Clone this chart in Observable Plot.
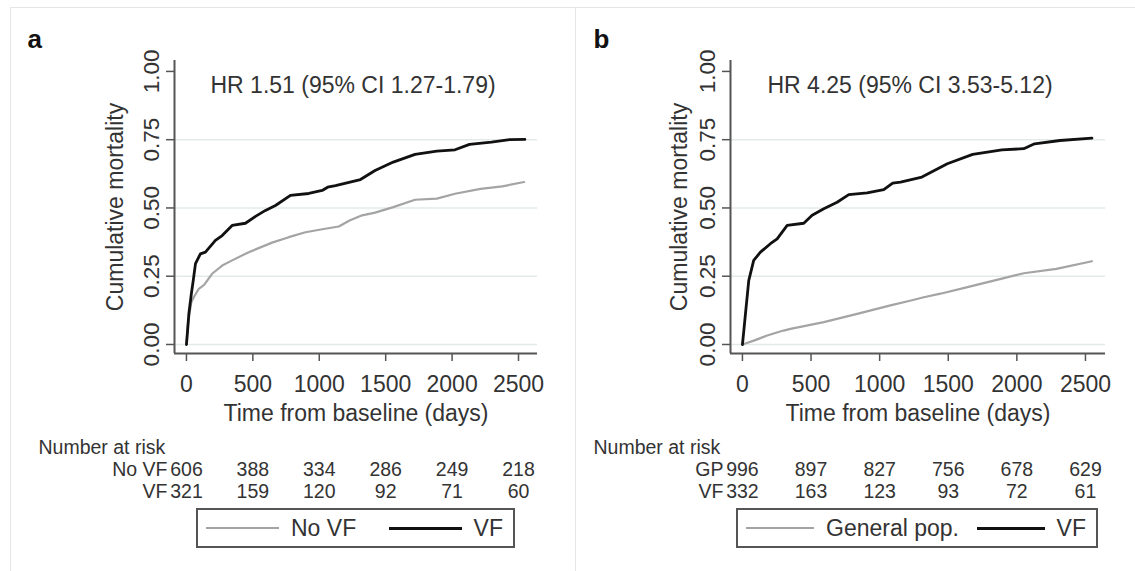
<!DOCTYPE html>
<html>
<head>
<meta charset="utf-8">
<script src="https://cdn.jsdelivr.net/npm/d3@7"></script>
<script src="https://cdn.jsdelivr.net/npm/@observablehq/plot@0.6"></script>
<style>
  html, body { margin: 0; padding: 0; background: #fff; }
  #root { position: relative; width: 1135px; height: 571px; overflow: hidden;
          font-family: "Liberation Sans", Arial, Helvetica, sans-serif; color: #333; }
  .line { position: absolute; background: #e6e6e6; }
  .panel { position: absolute; top: 0; }
  .legend { position: absolute; top: 508px; height: 40px; box-sizing: border-box;
            border: 2px solid #555; background: #fff; display: flex; align-items: center;
            justify-content: space-between; padding: 0 10px 0 8px; font-size: 23px; color: #333; }
  .item { display: flex; align-items: center; }
  .sw { display: inline-block; height: 0; }
</style>
</head>
<body>
<div id="root">
  <div class="line" style="left:10px;top:7px;width:1125px;height:1px"></div>
  <div class="line" style="left:10px;top:7px;width:1px;height:564px"></div>
  <div class="line" style="left:575px;top:7px;width:1px;height:564px"></div>
</div>
<script>
// ---------- data ----------
const xTicks = [0, 500, 1000, 1500, 2000, 2500];
const yTicks = [0, 0.25, 0.5, 0.75, 1];
const gridTicks = [0, 0.25, 0.5, 0.75];
const riskTimes = [0, 500, 1000, 1500, 2000, 2500];

// Panel a
const aVFDays   = [0, 10, 18, 37, 51, 68, 105, 143, 218, 269, 344, 444, 520, 595, 670, 783, 921, 1022, 1063, 1122, 1310, 1420, 1557, 1721, 1885, 2022, 2131, 2296, 2433, 2548];
const aVFValues = [0, 0.06, 0.112, 0.186, 0.234, 0.296, 0.332, 0.338, 0.381, 0.399, 0.436, 0.444, 0.469, 0.491, 0.509, 0.546, 0.553, 0.564, 0.576, 0.582, 0.604, 0.637, 0.668, 0.696, 0.708, 0.713, 0.733, 0.741, 0.750, 0.751];
const aNoVFDays   = [0, 10, 23, 37, 55, 93, 133, 193, 269, 344, 469, 645, 770, 896, 1022, 1147, 1228, 1323, 1420, 1557, 1721, 1885, 2022, 2214, 2378, 2542];
const aNoVFValues = [0, 0.07, 0.113, 0.155, 0.173, 0.204, 0.218, 0.259, 0.289, 0.308, 0.338, 0.373, 0.393, 0.411, 0.422, 0.432, 0.454, 0.473, 0.483, 0.503, 0.530, 0.534, 0.552, 0.570, 0.579, 0.595];
const aRiskNoVF = [606, 388, 334, 286, 249, 218];
const aRiskVF   = [321, 159, 120, 92, 71, 60];

// Panel b
const bVFDays   = [0, 10, 22, 46, 82, 131, 204, 253, 326, 447, 508, 593, 690, 775, 909, 1030, 1095, 1152, 1308, 1493, 1678, 1891, 2050, 2129, 2314, 2547];
const bVFValues = [0, 0.05, 0.112, 0.234, 0.308, 0.338, 0.369, 0.387, 0.436, 0.444, 0.473, 0.497, 0.521, 0.549, 0.555, 0.567, 0.591, 0.595, 0.613, 0.662, 0.696, 0.713, 0.717, 0.735, 0.747, 0.756];
const bGPDays   = [0, 88, 180, 299, 350, 593, 836, 1079, 1228, 1322, 1443, 1625, 1891, 2050, 2288, 2547];
const bGPValues = [0, 0.015, 0.033, 0.051, 0.057, 0.082, 0.112, 0.143, 0.161, 0.173, 0.186, 0.208, 0.241, 0.261, 0.277, 0.305];
const bRiskGP = [996, 897, 827, 756, 678, 629];
const bRiskVF = [332, 163, 123, 93, 72, 61];

// ---------- styling ----------
const font = '"Liberation Sans", Arial, Helvetica, sans-serif';
const axisColor = "#555", textColor = "#333", gridColor = "#e2ebea";
const grayLine = "#a4a4a4", blackLine = "#111";

const toRows = (days, values) => days.map((d, i) => ({day: d, value: values[i]}));
const riskRow = (values) => riskTimes.map((t, i) => ({t, n: values[i]}));

function makePanel(cfg) {
  const plot = Plot.plot({
    width: cfg.width, height: 571,
    marginLeft: cfg.marginLeft, marginRight: cfg.marginRight, marginTop: 60, marginBottom: 218,
    x: {domain: cfg.xDomain},
    y: {domain: [-0.033, 1.04]},
    style: {fontFamily: font, color: textColor, background: "transparent", overflow: "visible"},
    marks: [
      Plot.ruleY(gridTicks, {stroke: gridColor, strokeWidth: 1.5}),
      Plot.ruleX([cfg.xDomain[0]], {stroke: axisColor, strokeWidth: 2}),
      Plot.ruleY([-0.033], {stroke: axisColor, strokeWidth: 2}),
      Plot.axisY({ticks: yTicks, tickSize: 8, tickFormat: () => "", stroke: axisColor, strokeWidth: 1.5, label: null}),
      Plot.text(yTicks, {y: d => d, text: d => d3.format(".2f")(d), frameAnchor: "left", rotate: -90,
        textAnchor: "middle", lineAnchor: "bottom", dx: -16, fontSize: 22.5, fill: textColor}),
      Plot.axisX({ticks: xTicks, tickSize: 8, tickPadding: 14, fontSize: 23, stroke: axisColor, fill: textColor,
        strokeWidth: 1.5, label: null, tickFormat: d => String(d)}),
      Plot.text(["Cumulative mortality"], {text: d => d, frameAnchor: "left", rotate: -90, textAnchor: "middle",
        lineAnchor: "bottom", dx: cfg.yTitleDx, fontSize: 23, fill: textColor}),
      Plot.text(["Time from baseline (days)"], {text: d => d, frameAnchor: "bottom", lineAnchor: "bottom",
        dy: 67, fontSize: 23, fill: textColor}),
      Plot.text([cfg.hr], {text: d => d, frameAnchor: "top-left", textAnchor: "start", lineAnchor: "bottom",
        dx: cfg.hrDx, dy: 32, fontSize: 23, fill: textColor}),
      Plot.text([cfg.tag], {text: d => d, frameAnchor: "top-left", textAnchor: "start", lineAnchor: "bottom",
        dx: cfg.tagDx, dy: -13, fontSize: 26, fontWeight: "bold", fill: "#111"}),
      // number at risk table
      Plot.text(["Number at risk"], {text: d => d, frameAnchor: "bottom-left", textAnchor: "start", lineAnchor: "bottom",
        dx: cfg.riskTitleDx, dy: 100, fontSize: 19.5, fill: textColor}),
      ...cfg.risk.flatMap((r, k) => [
        Plot.text(riskRow(r.values), {x: "t", text: d => String(d.n), frameAnchor: "bottom", lineAnchor: "bottom",
          dy: 122 + 22 * k, fontSize: 19.5, fill: textColor}),
        Plot.text([r.label], {x: () => riskTimes[0], text: d => d, frameAnchor: "bottom", textAnchor: "end",
          lineAnchor: "bottom", dx: -19, dy: 122 + 22 * k, fontSize: 19.5, fill: textColor})
      ]),
      // curves
      Plot.line(cfg.gray, {x: "day", y: "value", stroke: grayLine, strokeWidth: 2.2, strokeLinejoin: "round"}),
      Plot.line(cfg.black, {x: "day", y: "value", stroke: blackLine, strokeWidth: 2.8, strokeLinejoin: "round"})
    ]
  });
  const wrap = document.createElement("div");
  wrap.className = "panel";
  wrap.style.left = cfg.left + "px";
  wrap.appendChild(plot);
  return wrap;
}

function makeLegend(cfg) {
  const box = document.createElement("div");
  box.className = "legend";
  box.style.left = cfg.left + "px";
  box.style.width = cfg.width + "px";
  cfg.items.forEach(it => {
    const item = document.createElement("div");
    item.className = "item";
    const sw = document.createElement("span");
    sw.className = "sw";
    sw.style.width = cfg.swatch + "px";
    sw.style.borderTop = `${it.w}px solid ${it.color}`;
    sw.style.marginRight = "12px";
    const t = document.createElement("span");
    t.textContent = it.label;
    item.appendChild(sw); item.appendChild(t);
    box.appendChild(item);
  });
  return box;
}

const root = document.getElementById("root");
root.appendChild(makePanel({
  left: 0, width: 565, marginLeft: 174, marginRight: 28, xDomain: [-90, 2643],
  yTitleDx: -52, hrDx: 36, tagDx: -147, riskTitleDx: -136,
  hr: "HR 1.51 (95% CI 1.27-1.79)", tag: "a",
  gray: toRows(aNoVFDays, aNoVFValues), black: toRows(aVFDays, aVFValues),
  risk: [{label: "No VF", values: aRiskNoVF}, {label: "VF", values: aRiskVF}]
}));
root.appendChild(makePanel({
  left: 565, width: 570, marginLeft: 165, marginRight: 30, xDomain: [-87, 2646],
  yTitleDx: -44, hrDx: 37, tagDx: -137, riskTitleDx: -137,
  hr: "HR 4.25 (95% CI 3.53-5.12)", tag: "b",
  gray: toRows(bGPDays, bGPValues), black: toRows(bVFDays, bVFValues),
  risk: [{label: "GP", values: bRiskGP}, {label: "VF", values: bRiskVF}]
}));
root.appendChild(makeLegend({left: 196, width: 319, swatch: 73,
  items: [{label: "No VF", color: grayLine, w: 2}, {label: "VF", color: blackLine, w: 3}]}));
root.appendChild(makeLegend({left: 736, width: 362, swatch: 68,
  items: [{label: "General pop.", color: grayLine, w: 2}, {label: "VF", color: blackLine, w: 3}]}));
</script>
</body>
</html>
